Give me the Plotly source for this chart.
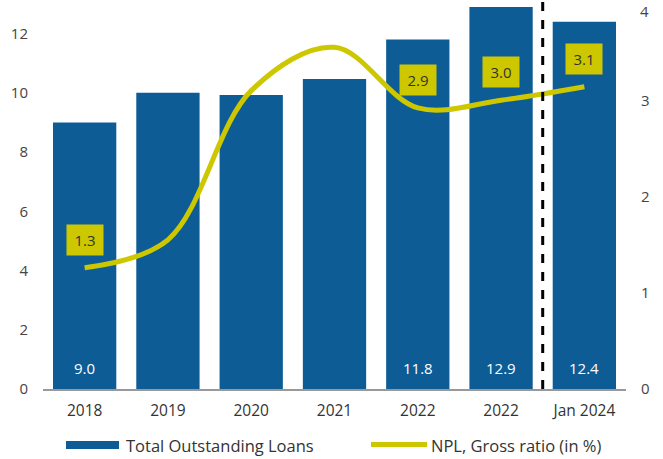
import plotly.graph_objects as go

categories = ["2018", "2019", "2020", "2021", "2022", "2022", "Jan 2024"]
loans = [9.0, 10.0, 9.93, 10.47, 11.8, 12.9, 12.4]
loan_labels = ["9.0", "", "", "", "11.8", "12.9", "12.4"]
npl = [1.26, 1.55, 3.1, 3.55, 2.92, 3.0, 3.14]
npl_labels = ["1.3", "", "", "", "2.9", "3.0", "3.1"]
loans_name = "Total Outstanding Loans"
npl_name = "NPL, Gross ratio (in %)"

BLUE = "#0e5c96"
YELLOW = "#cdc700"
FONT = "Open Sans"

x = list(range(len(categories)))

fig = go.Figure()
fig.add_trace(go.Bar(x=x, y=loans, name=loans_name, marker=dict(color=BLUE, line=dict(width=0)),
                     width=0.76, showlegend=False, hoverinfo="skip"))
fig.add_trace(go.Scatter(x=x, y=npl, name=npl_name, yaxis="y2", mode="lines",
                         line=dict(color=YELLOW, width=5, shape="spline", smoothing=1.0),
                         showlegend=False))

W, H = 663, 459
ml, mr, mt, mb = 43, 37, 4, 70
pw, ph = W - ml - mr, H - mt - mb

def px2paper_x(px):
    return (px - ml) / pw

def px2paper_y(py):
    return (H - mb - py) / ph

annotations = []
for xi, v, t in zip(x, loans, loan_labels):
    if t:
        annotations.append(dict(x=xi, y=0, xref="x", yref="y", text=t, showarrow=False,
                                yanchor="bottom", yshift=9,
                                font=dict(color="white", size=15, family=FONT)))
for xi, v, t in zip(x, npl, npl_labels):
    if t:
        annotations.append(dict(x=xi, y=v, xref="x", yref="y2", text=t, showarrow=False,
                                yanchor="middle", yshift=28, bgcolor=YELLOW,
                                borderpad=5, width=26,
                                font=dict(color="#333333", size=15, family=FONT)))

# top label of the right axis (plotly drops it at the edge)
annotations.append(dict(x=1, y=4, xref="paper", yref="y2", text="4", showarrow=False,
                        xanchor="left", yanchor="top", xshift=13, yshift=4, borderpad=0,
                        font=dict(color="#444444", size=15, family=FONT)))

# legend (manual)
annotations.append(dict(x=px2paper_x(124), y=px2paper_y(445), xref="paper", yref="paper",
                        text=loans_name, showarrow=False, xanchor="left", yanchor="middle",
                        font=dict(color="#333333", size=16.5, family=FONT)))
annotations.append(dict(x=px2paper_x(429), y=px2paper_y(445), xref="paper", yref="paper",
                        text=npl_name, showarrow=False, xanchor="left", yanchor="middle",
                        font=dict(color="#333333", size=16.5, family=FONT)))

shapes = [
    dict(type="line", xref="x", yref="paper", x0=5.5, x1=5.5, y0=0, y1=1.01,
         line=dict(color="black", width=3, dash="dash")),
    dict(type="rect", xref="paper", yref="paper",
         x0=px2paper_x(66), x1=px2paper_x(119), y0=px2paper_y(449), y1=px2paper_y(441),
         fillcolor=BLUE, line=dict(width=0)),
    dict(type="line", xref="paper", yref="paper",
         x0=px2paper_x(371), x1=px2paper_x(427), y0=px2paper_y(444.5), y1=px2paper_y(444.5),
         line=dict(color=YELLOW, width=5)),
]

fig.update_layout(
    width=W, height=H,
    margin=dict(l=ml, r=mr, t=mt, b=mb),
    plot_bgcolor="white", paper_bgcolor="white",
    font=dict(family=FONT, color="#444444", size=15),
    xaxis=dict(range=[-0.5, 6.5], tickmode="array", tickvals=x, ticktext=categories,
               showgrid=False, zeroline=False, showline=True, linecolor="#999999", linewidth=2,
               ticks="", ticklabelstandoff=6, tickfont=dict(size=15.5, color="#333333")),
    yaxis=dict(range=[0, 13], tickvals=[0, 2, 4, 6, 8, 10, 12], showgrid=False, zeroline=False,
               showline=False, ticks="", ticklabelstandoff=14, tickfont=dict(size=15, color="#444444")),
    yaxis2=dict(range=[0, 4], overlaying="y", side="right", tickvals=[0, 1, 2, 3], showgrid=False,
                zeroline=False, showline=False, ticks="", ticklabelstandoff=14,
                tickfont=dict(size=15, color="#444444")),
    annotations=annotations,
    shapes=shapes,
    showlegend=False,
)

fig.write_html("out.html")
